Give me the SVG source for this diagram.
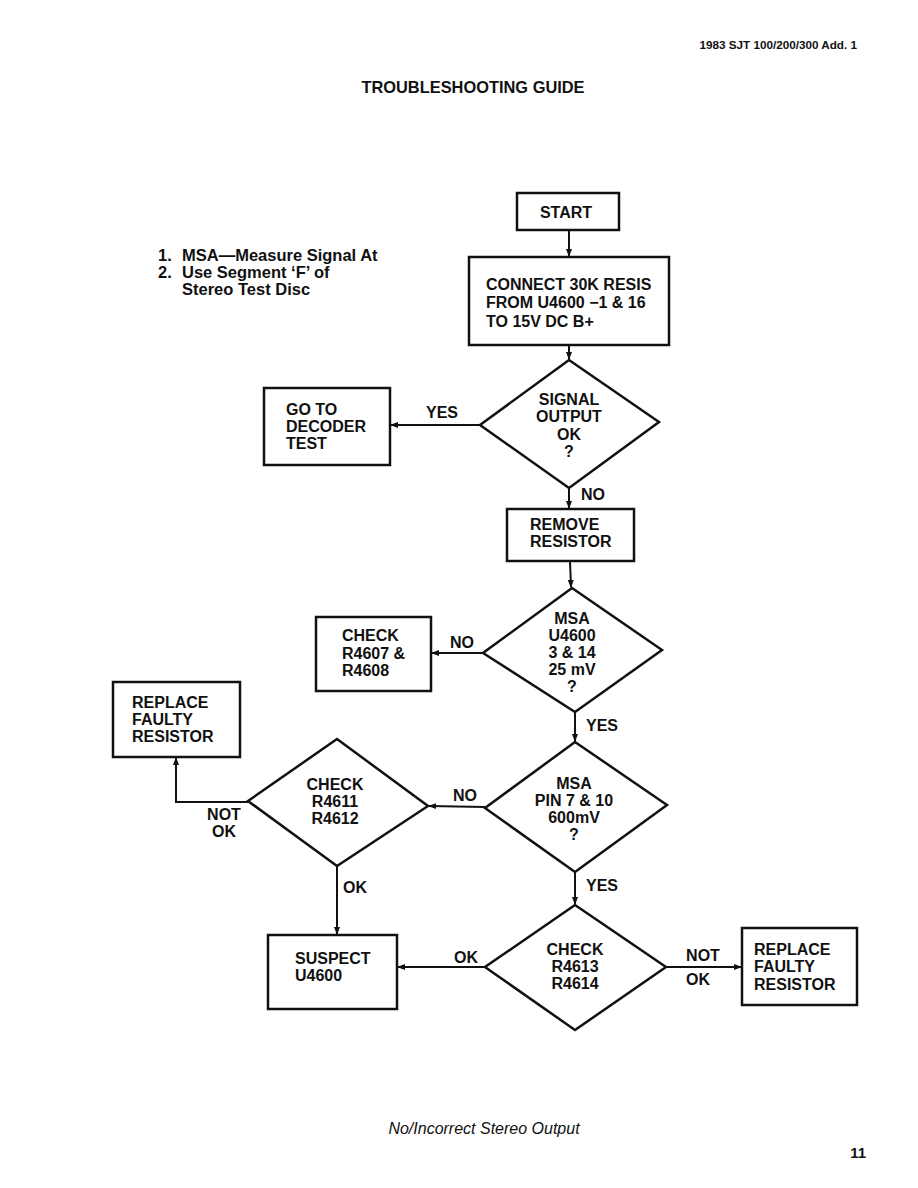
<svg xmlns="http://www.w3.org/2000/svg" width="918" height="1188" viewBox="0 0 918 1188">
<defs>
<style>
.t{font-family:"Liberation Sans",Arial,sans-serif;font-weight:bold;font-size:16px;fill:#111}
.c{text-anchor:middle}
.n{font-size:16.5px}
.box{fill:none;stroke:#111;stroke-width:2.5}
.ln{fill:none;stroke:#111;stroke-width:2}
</style>
<marker id="ah" markerWidth="8" markerHeight="8" refX="7" refY="4" orient="auto" markerUnits="userSpaceOnUse">
<path d="M0,1 L8,4 L0,7 Z" fill="#111"/>
</marker>
</defs>
<rect width="918" height="1188" fill="#fff"/>
<text class="t" x="857" y="49" text-anchor="end" style="font-size:11.7px">1983 SJT 100/200/300 Add. 1</text>
<text class="t c" x="473" y="93" style="font-size:16.4px">TROUBLESHOOTING GUIDE</text>
<g id="notes">
<text class="t n" x="158" y="261">1.</text>
<text class="t n" x="182" y="261">MSA—Measure Signal At</text>
<text class="t n" x="158" y="278">2.</text>
<text class="t n" x="182" y="278">Use Segment ‘F’ of</text>
<text class="t n" x="182" y="295">Stereo Test Disc</text>
</g>
<g id="connectors">
<line class="ln" x1="569" y1="230" x2="569" y2="256" marker-end="url(#ah)"/>
<line class="ln" x1="569" y1="345" x2="569" y2="359" marker-end="url(#ah)"/>
<line class="ln" x1="480" y1="425" x2="391" y2="425" marker-end="url(#ah)"/>
<line class="ln" x1="569" y1="489" x2="569" y2="508" marker-end="url(#ah)"/>
<line class="ln" x1="570" y1="561" x2="571" y2="587" marker-end="url(#ah)"/>
<line class="ln" x1="483" y1="653" x2="432" y2="653" marker-end="url(#ah)"/>
<line class="ln" x1="575" y1="712" x2="575" y2="741" marker-end="url(#ah)"/>
<line class="ln" x1="485" y1="807" x2="429" y2="806" marker-end="url(#ah)"/>
<polyline class="ln" points="248,802 176,802 176,758" marker-end="url(#ah)"/>
<line class="ln" x1="337" y1="866" x2="337" y2="934" marker-end="url(#ah)"/>
<line class="ln" x1="575" y1="872" x2="575" y2="904" marker-end="url(#ah)"/>
<line class="ln" x1="485" y1="967" x2="398" y2="967" marker-end="url(#ah)"/>
<line class="ln" x1="666" y1="967" x2="741" y2="967" marker-end="url(#ah)"/>
<text class="t" x="426" y="418">YES</text>
<text class="t" x="581" y="500">NO</text>
<text class="t" x="450" y="648">NO</text>
<text class="t" x="586" y="731">YES</text>
<text class="t" x="453" y="801">NO</text>
<text class="t c" x="224" y="820">NOT</text>
<text class="t c" x="224" y="837">OK</text>
<text class="t" x="343" y="893">OK</text>
<text class="t" x="586" y="891">YES</text>
<text class="t" x="454" y="963">OK</text>
<text class="t c" x="703" y="961">NOT</text>
<text class="t c" x="698" y="985">OK</text>
</g>
<g id="start">
<rect class="box" x="517" y="193" width="102" height="37"/>
<text class="t c" x="566" y="218">START</text>
</g>
<g id="connect">
<rect class="box" x="469" y="257" width="200" height="88"/>
<text class="t" x="486" y="290">CONNECT 30K RESIS</text>
<text class="t" x="486" y="308">FROM U4600 −1 &amp; 16</text>
<text class="t" x="486" y="327">TO 15V DC B+</text>
</g>
<g id="signal-ok">
<polygon class="box" points="569,360 659,422 569,488 480,425"/>
<text class="t c" x="569" y="405">SIGNAL</text>
<text class="t c" x="569" y="422">OUTPUT</text>
<text class="t c" x="569" y="440">OK</text>
<text class="t c" x="569" y="457">?</text>
</g>
<g id="decoder">
<rect class="box" x="264" y="388" width="126" height="77"/>
<text class="t" x="286" y="415">GO TO</text>
<text class="t" x="286" y="432">DECODER</text>
<text class="t" x="286" y="449">TEST</text>
</g>
<g id="remove">
<rect class="box" x="507" y="509" width="127" height="52"/>
<text class="t" x="530" y="530">REMOVE</text>
<text class="t" x="530" y="547">RESISTOR</text>
</g>
<g id="msa1">
<polygon class="box" points="572,588 662,650 575,712 483,653"/>
<text class="t c" x="572" y="624">MSA</text>
<text class="t c" x="572" y="641">U4600</text>
<text class="t c" x="572" y="658">3 &amp; 14</text>
<text class="t c" x="572" y="675">25 mV</text>
<text class="t c" x="572" y="692">?</text>
</g>
<g id="check4607">
<rect class="box" x="316" y="617" width="115" height="74"/>
<text class="t" x="342" y="641">CHECK</text>
<text class="t" x="342" y="659">R4607 &amp;</text>
<text class="t" x="342" y="676">R4608</text>
</g>
<g id="msa2">
<polygon class="box" points="575,742 667,805 575,872 485,808"/>
<text class="t c" x="574" y="789">MSA</text>
<text class="t c" x="574" y="806">PIN 7 &amp; 10</text>
<text class="t c" x="574" y="823">600mV</text>
<text class="t c" x="574" y="840">?</text>
</g>
<g id="check4611">
<polygon class="box" points="337,739 428,806 337,866 248,801"/>
<text class="t c" x="335" y="790">CHECK</text>
<text class="t c" x="335" y="807">R4611</text>
<text class="t c" x="335" y="824">R4612</text>
</g>
<g id="replace-left">
<rect class="box" x="113" y="682" width="127" height="75"/>
<text class="t" x="132" y="708">REPLACE</text>
<text class="t" x="132" y="725">FAULTY</text>
<text class="t" x="132" y="742">RESISTOR</text>
</g>
<g id="suspect">
<rect class="box" x="268" y="935" width="129" height="74"/>
<text class="t" x="295" y="964">SUSPECT</text>
<text class="t" x="295" y="981">U4600</text>
</g>
<g id="check4613">
<polygon class="box" points="575,905 666,967 575,1030 485,967"/>
<text class="t c" x="575" y="955">CHECK</text>
<text class="t c" x="575" y="972">R4613</text>
<text class="t c" x="575" y="989">R4614</text>
</g>
<g id="replace-right">
<rect class="box" x="742" y="928" width="115" height="77"/>
<text class="t" x="754" y="955">REPLACE</text>
<text class="t" x="754" y="972">FAULTY</text>
<text class="t" x="754" y="990">RESISTOR</text>
</g>
<text x="484" y="1134" text-anchor="middle" style="font-family:'Liberation Sans',Arial,sans-serif;font-style:italic;font-size:16px;fill:#111">No/Incorrect Stereo Output</text>
<text class="t" x="866" y="1158" text-anchor="end" style="font-size:15px">11</text>
</svg>
